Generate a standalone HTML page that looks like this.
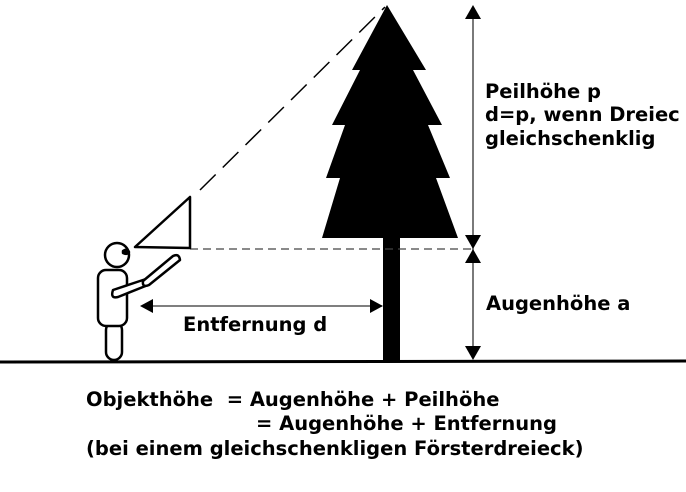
<!DOCTYPE html>
<html><head><style>
body{margin:0;background:#fff;}
svg text{font-family:"DejaVu Sans",sans-serif;font-weight:bold;font-size:19.5px;fill:#000;white-space:pre;}
</style></head><body>
<svg width="686" height="487" viewBox="0 0 686 487" xmlns="http://www.w3.org/2000/svg">
<path d="M0 362 Q340 360 686 361" stroke="#000" stroke-width="3" fill="none"/>
<polygon points="387,5 426,70 413,70 442,125 428,125 450,178 436,178 458,238 322,238 340,178 326,178 345,125 332,125 360,70 352,70" fill="#000"/>
<rect x="383" y="236" width="17" height="126" fill="#000"/>
<line x1="190" y1="249" x2="473" y2="249" stroke="#444" stroke-width="1.3" stroke-dasharray="8,5"/>
<line x1="200" y1="190" x2="385" y2="7" stroke="#000" stroke-width="1.5" stroke-dasharray="22,10"/>
<line x1="473" y1="10" x2="473" y2="358" stroke="#333" stroke-width="1.3"/>
<polygon points="473,5 465,19 481,19" fill="#000"/>
<polygon points="465,235 481,235 473,249" fill="#000"/>
<polygon points="465,263 481,263 473,249" fill="#000"/>
<polygon points="465,346 481,346 473,360" fill="#000"/>
<line x1="145" y1="306" x2="382" y2="306" stroke="#333" stroke-width="1.3"/>
<polygon points="140,306 153,299 153,313" fill="#000"/>
<polygon points="383,306 370,299 370,313" fill="#000"/>
<g stroke="#000" stroke-width="2.5" fill="#fff" stroke-linejoin="round">
<rect x="106" y="322" width="16" height="38" rx="8"/>
<rect x="98" y="270" width="29" height="56" rx="8"/>
<circle cx="117" cy="255" r="12"/>
<path d="M123 251 q4 -3 6 1 q-2 3 -6 1z" fill="#000"/>
<path d="M113 290 l30 -10 q6 -2 5 5 l-30 12 q-8 2 -5 -7z"/>
<path d="M143 281 l30 -25 q6 -3 7 4 l-31 25 q-7 3 -6 -4z"/>
<polygon points="135,247 190,197 190,248"/>
</g>
<text x="485" y="98">Peilhöhe p</text>
<text x="485" y="121">d=p, wenn Dreiec</text>
<text x="485" y="145">gleichschenklig</text>
<text x="486" y="310">Augenhöhe a</text>
<text x="183" y="331">Entfernung d</text>
<text x="86" y="406">Objekthöhe  = Augenhöhe + Peilhöhe</text>
<text x="256" y="430">= Augenhöhe + Entfernung</text>
<text x="86" y="455">(bei einem gleichschenkligen Försterdreieck)</text>
</svg>
</body></html>
